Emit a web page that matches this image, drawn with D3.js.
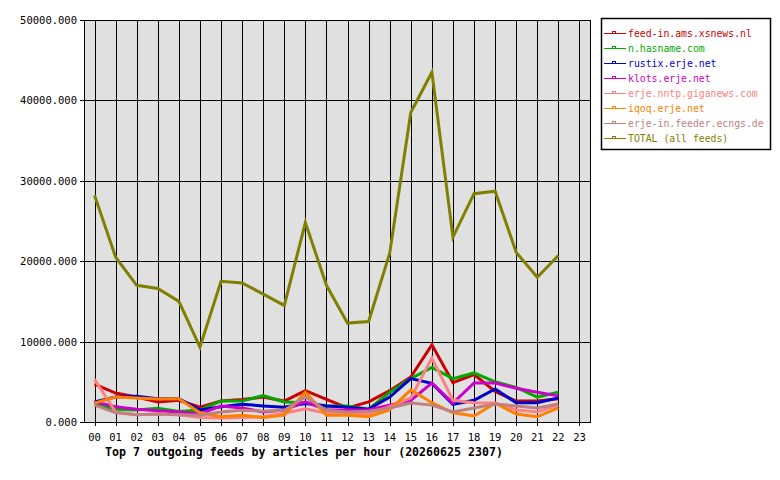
<!DOCTYPE html>
<html>
<head>
<meta charset="utf-8">
<script src="https://cdn.jsdelivr.net/npm/d3@7"></script>
<style>
  body { margin: 0; background: #ffffff; }
  text { font-family: "DejaVu Sans Mono", "Liberation Mono", monospace; }
</style>
</head>
<body>
<script>
var hours = ["00","01","02","03","04","05","06","07","08","09","10","11",
             "12","13","14","15","16","17","18","19","20","21","22","23"];

var feedNames = ["feed-in.ams.xsnews.nl", "n.hasname.com", "rustix.erje.net", "klots.erje.net",
                 "erje.nntp.giganews.com", "iqoq.erje.net", "erje-in.feeder.ecngs.de", "TOTAL (all feeds)"];

var feedColors = ["#cc0000", "#00aa00", "#0000cc", "#cc00cc", "#ff8080", "#ff8000", "#c08080", "#808000"];

var xsnews   = [4700,3600,3100,2500,2700,1850,2600,2800,3100,2600,3900,2800,1750,2500,3900,5600,9600,4900,5900,3800,2600,2600,2900];
var hasname  = [2200,1600,1500,1700,1300,1500,2600,2600,3300,2500,2400,2000,2000,1600,3700,5400,6800,5400,6100,5000,4300,3100,3700];
var rustix   = [2500,3100,3200,2900,2900,1500,1900,2200,2000,1850,2300,2000,1850,1600,3100,5400,4800,2200,2700,4100,2400,2400,3000];
var klots    = [2500,1900,1600,1400,1250,1000,2000,1750,1250,1500,2500,1500,1500,1500,2100,2700,4850,2350,4850,4850,4200,3700,3250];
var giganews = [5300,1250,900,1000,900,550,500,550,650,1100,1650,1100,1100,1000,1900,3000,7950,2700,2400,2350,1500,1250,2100];
var iqoq     = [2350,3100,3000,2850,2900,1150,650,850,550,850,3700,850,850,650,1500,4000,2400,1150,750,2350,1000,650,1750];
var ecngs    = [2100,1150,900,1000,900,850,1250,1450,1350,1450,3100,1450,1250,1350,1750,2350,2100,1250,1750,2250,2000,1750,2250];
var total    = [28200,20500,17000,16600,15000,9300,17500,17300,15900,14500,24800,17000,12300,12500,21000,38500,43500,23000,28400,28700,21100,18000,20700];

var feedValues = [xsnews, hasname, rustix, klots, giganews, iqoq, ecngs, total];

var yTicks = [0, 10000, 20000, 30000, 40000, 50000];

var plot = {left: 84, right: 590, top: 20, bottom: 422};

var svg = d3.select("body")
            .append("svg")
            .attr("width", 780)
            .attr("height", 480);

var xScale = d3.scaleLinear()
               .domain([-0.5, hours.length - 0.5])
               .range([plot.left, plot.right]);

var yScale = d3.scaleLinear()
               .domain([0, 50000])
               .range([plot.bottom, plot.top]);

// plot background
svg.append("rect")
   .attr("x", plot.left)
   .attr("y", plot.top)
   .attr("width", plot.right - plot.left)
   .attr("height", plot.bottom - plot.top)
   .attr("fill", "#e0e0e0");

// vertical grid
svg.append("g")
   .selectAll("line")
   .data(hours)
   .enter()
   .append("line")
   .attr("x1", function(d, i){return Math.round(xScale(i)) + 0.5;})
   .attr("x2", function(d, i){return Math.round(xScale(i)) + 0.5;})
   .attr("y1", plot.top)
   .attr("y2", plot.bottom)
   .attr("stroke", "black")
   .attr("shape-rendering", "crispEdges");

// horizontal grid
svg.append("g")
   .selectAll("line")
   .data(yTicks)
   .enter()
   .append("line")
   .attr("x1", plot.left - 4)
   .attr("x2", plot.right)
   .attr("y1", function(d){return Math.round(yScale(d)) + 0.5;})
   .attr("y2", function(d){return Math.round(yScale(d)) + 0.5;})
   .attr("stroke", "black")
   .attr("shape-rendering", "crispEdges");

svg.append("rect")
   .attr("x", plot.left + 0.5)
   .attr("y", plot.top + 0.5)
   .attr("width", plot.right - plot.left)
   .attr("height", plot.bottom - plot.top)
   .attr("fill", "none")
   .attr("stroke", "black")
   .attr("shape-rendering", "crispEdges");

// x tick marks below axis
svg.append("g")
   .selectAll("line")
   .data(hours)
   .enter()
   .append("line")
   .attr("x1", function(d, i){return Math.round(xScale(i)) + 0.5;})
   .attr("x2", function(d, i){return Math.round(xScale(i)) + 0.5;})
   .attr("y1", plot.bottom)
   .attr("y2", plot.bottom + 4)
   .attr("stroke", "black")
   .attr("shape-rendering", "crispEdges");

svg.append("g")
   .selectAll("text")
   .data(yTicks)
   .enter()
   .append("text")
   .attr("x", plot.left - 7)
   .attr("y", function(d){return yScale(d) + 4;})
   .attr("text-anchor", "end")
   .attr("font-size", "10.5px")
   .text(function(d){return d3.format(".3f")(d);});

svg.append("g")
   .selectAll("text")
   .data(hours)
   .enter()
   .append("text")
   .attr("x", function(d, i){return xScale(i);})
   .attr("y", plot.bottom + 19)
   .attr("text-anchor", "middle")
   .attr("font-size", "10.5px")
   .text(function(d){return d;});

svg.append("text")
   .attr("x", 105)
   .attr("y", 456)
   .attr("font-size", "11.6px")
   .attr("font-weight", "bold")
   .text("Top 7 outgoing feeds by articles per hour (20260625 2307)");

var lineGenerator = d3.line()
                      .x(function(d, i){return xScale(i);})
                      .y(function(d){return yScale(d);});

svg.append("g")
   .selectAll("path")
   .data(feedValues)
   .enter()
   .append("path")
   .attr("d", lineGenerator)
   .attr("fill", "none")
   .attr("stroke", function(d, i){return feedColors[i];})
   .attr("stroke-width", 3)
   .attr("stroke-linejoin", "miter");

// legend
var legend = svg.append("g");

legend.append("rect")
      .attr("x", 601.5)
      .attr("y", 18.5)
      .attr("width", 169)
      .attr("height", 131)
      .attr("fill", "white")
      .attr("stroke", "black")
      .attr("stroke-width", 1.5);

var entries = legend.selectAll("g")
                    .data(feedNames)
                    .enter()
                    .append("g")
                    .attr("transform", function(d, i){return "translate(0," + (33 + i * 15) + ")";});

entries.append("line")
       .attr("x1", 604)
       .attr("x2", 626)
       .attr("y1", 0.5)
       .attr("y2", 0.5)
       .attr("stroke", function(d, i){return feedColors[i];})
       .attr("shape-rendering", "crispEdges");

entries.append("rect")
       .attr("x", 612.5)
       .attr("y", -1.5)
       .attr("width", 3)
       .attr("height", 2)
       .attr("fill", "none")
       .attr("stroke", function(d, i){return feedColors[i];})
       .attr("shape-rendering", "crispEdges");

entries.append("text")
       .attr("x", 628)
       .attr("y", 4)
       .attr("font-size", "9.8px")
       .attr("fill", function(d, i){return feedColors[i];})
       .text(function(d){return d;});
</script>
</body>
</html>
